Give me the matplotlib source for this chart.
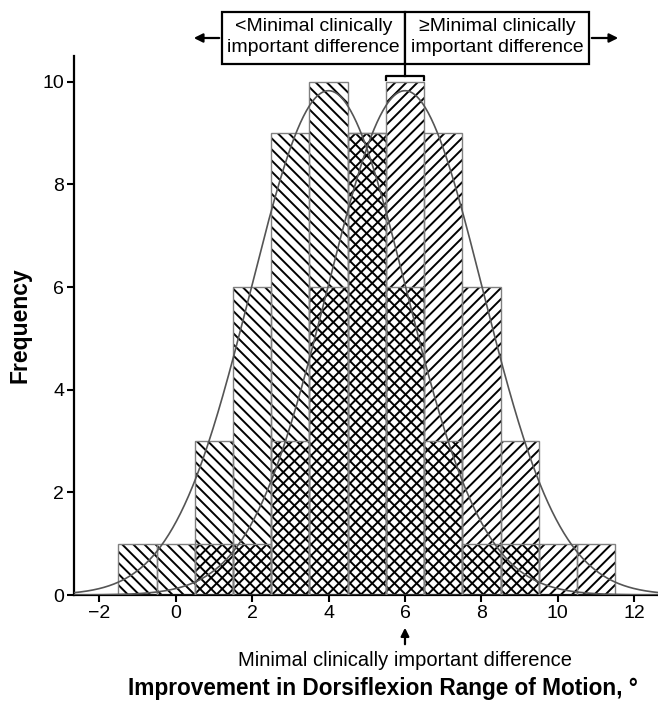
import numpy as np
import matplotlib
matplotlib.use("Agg")
import matplotlib.pyplot as plt
import matplotlib.transforms as mtransforms
from matplotlib.patches import Rectangle, FancyArrowPatch
from matplotlib.lines import Line2D

# ---------------- data ----------------
bin_centers = [-1, 0, 1, 2, 3, 4, 5, 6, 7, 8, 9, 10, 11]
counts_below_mcid = [1, 1, 3, 6, 9, 10, 9, 6, 3, 1, 1, 0, 0]
counts_above_mcid = [0, 0, 1, 1, 3, 6, 9, 10, 9, 6, 3, 1, 1]
x_ticks = [-2, 0, 2, 4, 6, 8, 10, 12]
y_ticks = [0, 2, 4, 6, 8, 10]
mcid_value = 6
label_below = "<Minimal clinically\nimportant difference"
label_above = "\u2265Minimal clinically\nimportant difference"
mcid_label = "Minimal clinically important difference"
x_label = "Improvement in Dorsiflexion Range of Motion, \u00b0"
y_label = "Frequency"

# ---------------- style ----------------
plt.rcParams["font.family"] = ["Liberation Sans", "DejaVu Sans"]
plt.rcParams["hatch.linewidth"] = 1.4

W, H = 658, 705
fig = plt.figure(figsize=(W / 100, H / 100), dpi=100)
ax_left, ax_right, ax_top, ax_bottom = 74, 658, 56, 595
ax = fig.add_axes([ax_left / W, 1 - ax_bottom / H,
                   (ax_right - ax_left) / W, (ax_bottom - ax_top) / H])

centers = np.array(bin_centers, dtype=float)
binw = 1.0


def draw_hist(counts, hatch):
    c = np.array(counts, dtype=float)
    m = c > 0
    ax.bar(centers[m], c[m], width=binw, facecolor="none", edgecolor="black",
           linewidth=0, hatch=hatch, zorder=2)
    ax.bar(centers[m], c[m], width=binw, facecolor="none", edgecolor="#808080",
           linewidth=1.0, zorder=3)


draw_hist(counts_below_mcid, "\\\\\\")
draw_hist(counts_above_mcid, "///")

# fitted normal curves from the data
xs = np.linspace(-2.7, 12.7, 600)
for counts in (counts_below_mcid, counts_above_mcid):
    c = np.array(counts, dtype=float)
    n = c.sum()
    mu = (c * centers).sum() / n
    sd = np.sqrt((c * (centers - mu) ** 2).sum() / (n - 1))
    ys = n * binw / (sd * np.sqrt(2 * np.pi)) * np.exp(-0.5 * ((xs - mu) / sd) ** 2)
    ax.plot(xs, ys, color="#555555", linewidth=1.2, zorder=4)

ax.set_xlim(-2.66, 12.62)
ax.set_ylim(0, 10.5)
ax.set_xticks(x_ticks)
ax.set_yticks(y_ticks)
for s in ("top", "right"):
    ax.spines[s].set_visible(False)
for s in ("left", "bottom"):
    ax.spines[s].set_linewidth(1.6)
ax.tick_params(direction="out", length=5, width=1.5, labelsize=14, pad=2)
ax.set_ylabel(y_label, fontsize=16.5, fontweight="bold", labelpad=8)

# blended transform: x in data, y in figure fraction
trans = mtransforms.blended_transform_factory(ax.transData, fig.transFigure)


def fy(py):
    return 1 - py / H


def fx(px):
    inv = ax.transData.inverted()
    return inv.transform((px, 0))[0]


fig.canvas.draw()
x_box_l = fx(222)
x_box_r = fx(589)
box_top, box_bot = 12, 64

for x0, x1 in ((x_box_l, mcid_value), (mcid_value, x_box_r)):
    rect = Rectangle((x0, fy(box_bot)), x1 - x0, fy(box_top) - fy(box_bot),
                     transform=trans, facecolor="white", edgecolor="black",
                     linewidth=1.6, clip_on=False)
    fig.add_artist(rect)

ymid = fy(37)
fig.text((x_box_l + mcid_value) / 2, ymid, label_below, transform=trans,
         ha="center", va="center", fontsize=14, linespacing=1.25)
fig.text((mcid_value + x_box_r) / 2, ymid, label_above, transform=trans,
         ha="center", va="center", fontsize=14, linespacing=1.25)

# side arrows
arr_y = fy(38)
fig.add_artist(FancyArrowPatch(
    (x_box_l, arr_y), (fx(191), arr_y), transform=trans,
    arrowstyle="-|>", mutation_scale=13, linewidth=1.6, color="black"))
fig.add_artist(FancyArrowPatch(
    (x_box_r, arr_y), (fx(621), arr_y), transform=trans,
    arrowstyle="-|>", mutation_scale=13, linewidth=1.6, color="black"))

# bracket from box to MCID bar
half = binw / 2
fig.add_artist(Line2D([mcid_value, mcid_value], [fy(box_bot), fy(76)],
                      transform=trans, color="black", linewidth=1.6))
fig.add_artist(Line2D(
    [mcid_value - half, mcid_value - half, mcid_value + half, mcid_value + half],
    [fy(80), fy(76), fy(76), fy(80)],
    transform=trans, color="black", linewidth=1.6))

# bottom arrow + label
fig.add_artist(FancyArrowPatch(
    (mcid_value, fy(647)), (mcid_value, fy(625)), transform=trans,
    arrowstyle="-|>", mutation_scale=12, linewidth=1.6, color="black"))
fig.text(mcid_value, fy(661), mcid_label, transform=trans,
         ha="center", va="center", fontsize=14.5)

fig.text(383 / W, fy(689), x_label, ha="center", va="center",
         fontsize=16.3, fontweight="bold")

fig.savefig("out.png", dpi=100)
